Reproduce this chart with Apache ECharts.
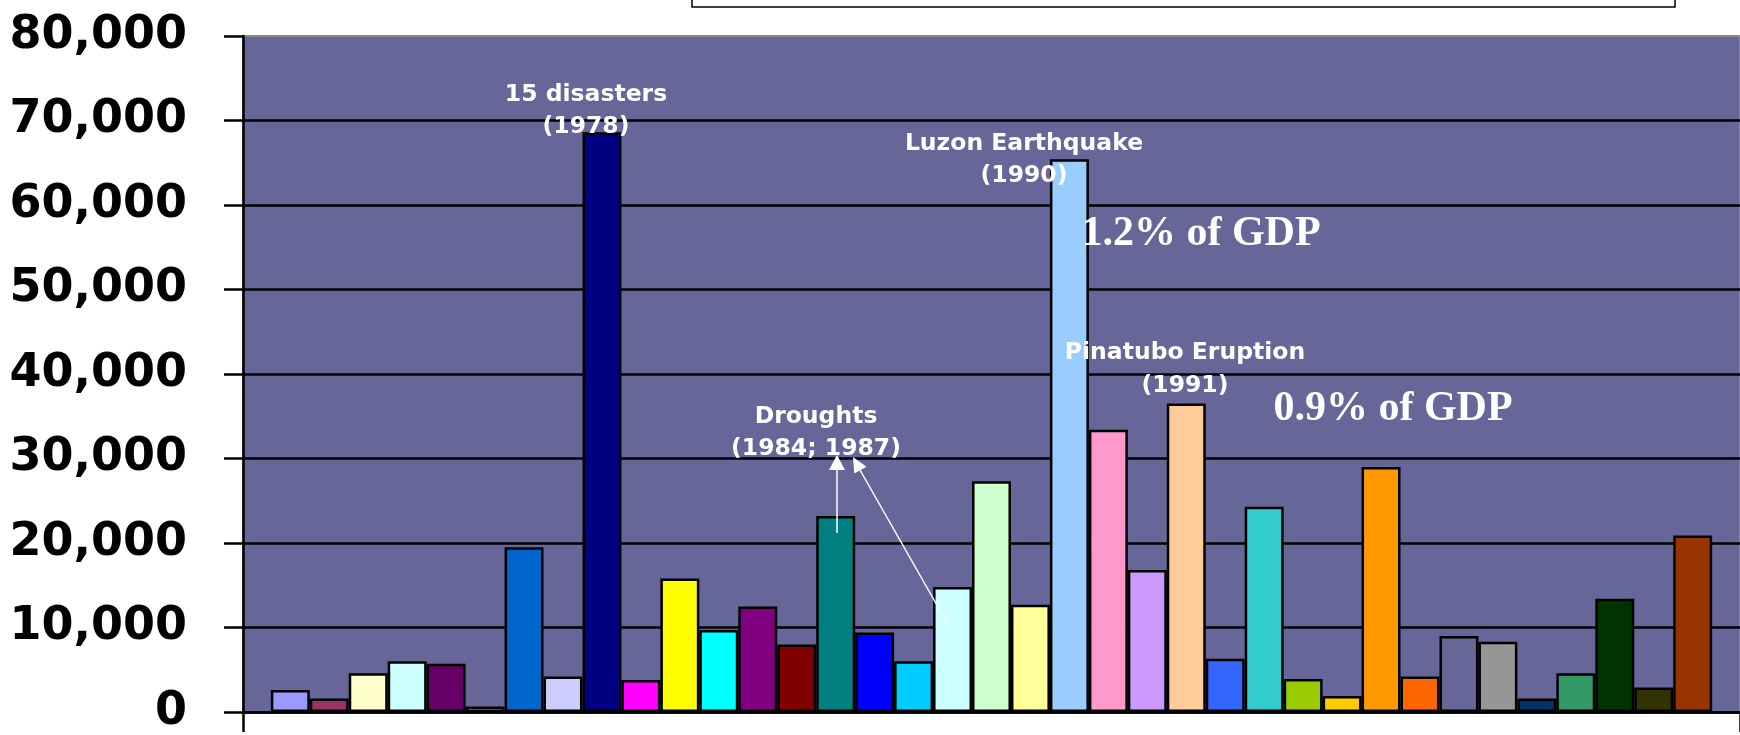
<!DOCTYPE html>
<html>
<head>
<meta charset="utf-8">
<script src="https://cdn.jsdelivr.net/npm/echarts@6/dist/echarts.min.js"></script>
<style>
  html, body { margin: 0; padding: 0; background: #fff; }
  #chart { width: 1740px; height: 735px; }
</style>
</head>
<body>
<div id="chart"></div>
<script>
// one bar per year, 1970 - 2006
const years = [
  '1970', '1971', '1972', '1973', '1974', '1975', '1976', '1977', '1978', '1979',
  '1980', '1981', '1982', '1983', '1984', '1985', '1986', '1987', '1988', '1989',
  '1990', '1991', '1992', '1993', '1994', '1995', '1996', '1997', '1998', '1999',
  '2000', '2001', '2002', '2003', '2004', '2005', '2006'
];
const damages = [
  2600, 1600, 4600, 6000, 5700, 650, 19500, 4200, 68600, 3800,
  15800, 9700, 12500, 8000, 23200, 9400, 6000, 14800, 27300, 12700,
  65400, 33400, 16800, 36500, 6300, 24300, 3900, 1900, 29000, 4200,
  9000, 8300, 1600, 4600, 13400, 2900, 20900
];
// excel default series palette
const barColors = [
  '#9999FF', '#993366', '#FFFFCC', '#CCFFFF', '#660066', '#FF8080', '#0066CC', '#CCCCFF', '#000080', '#FF00FF',
  '#FFFF00', '#00FFFF', '#800080', '#800000', '#008080', '#0000FF', '#00CCFF', '#CCFFFF', '#CCFFCC', '#FFFF99',
  '#99CCFF', '#FF99CC', '#CC99FF', '#FFCC99', '#3366FF', '#33CCCC', '#99CC00', '#FFCC00', '#FF9900', '#FF6600',
  '#666699', '#969696', '#003366', '#339966', '#003300', '#333300', '#993300'
];
const yTicks = [0, 10000, 20000, 30000, 40000, 50000, 60000, 70000, 80000];

const labelFont = 'bold 23.5px "DejaVu Sans", Verdana, sans-serif';
const gdpFont = 'bold 42px "Liberation Serif", "Times New Roman", serif';

const chart = echarts.init(document.getElementById('chart'));

const series = years.map((yr, i) => ({
  name: yr,
  type: 'bar',
  data: [damages[i]],
  barGap: '0%',
  barCategoryGap: '3.72%',
  itemStyle: { color: barColors[i], borderColor: '#000', borderWidth: 2.5 },
  animation: false
}));

chart.setOption({
  animation: false,
  grid: {
    left: 243, right: -8, top: 36, bottom: 16.5,
    show: true, backgroundColor: '#666699', borderColor: '#8a8a8a', borderWidth: 2
  },
  xAxis: {
    type: 'category',
    data: ['damage'],
    axisLine: { lineStyle: { color: '#000', width: 2.5 } },
    axisTick: { show: true, length: 20, lineStyle: { color: '#000', width: 2.5 } },
    axisLabel: { show: false }
  },
  yAxis: {
    type: 'value',
    min: yTicks[0],
    max: yTicks[yTicks.length - 1],
    interval: 10000,
    axisLine: { show: true, lineStyle: { color: '#000', width: 2.5 } },
    axisTick: { show: true, length: 19, lineStyle: { color: '#000', width: 2.5 } },
    splitLine: { show: true, showMaxLine: false, lineStyle: { color: '#000', width: 2.5 } },
    axisLabel: {
      margin: 56,
      color: '#000',
      fontFamily: '"DejaVu Sans", Verdana, sans-serif',
      fontWeight: 'bold',
      fontSize: 46,
      padding: [0, 0, 7, 0],
      formatter: v => v.toLocaleString('en-US')
    }
  },
  series: series,
  graphic: [
    // box cut off at the top
    { type: 'rect', z: 100, shape: { x: 692, y: -6, width: 983, height: 13 },
      style: { fill: '#fff', stroke: '#000', lineWidth: 1.5 } },
    // annotations
    { type: 'text', z: 100, style: { text: '15 disasters\n(1978)', x: 586, y: 111, align: 'center', verticalAlign: 'middle', font: labelFont, fill: '#fff', lineHeight: 32 } },
    { type: 'text', z: 100, style: { text: 'Luzon Earthquake\n(1990)', x: 1024, y: 160, align: 'center', verticalAlign: 'middle', font: labelFont, fill: '#fff', lineHeight: 32 } },
    { type: 'text', z: 100, style: { text: 'Pinatubo Eruption\n(1991)', x: 1185, y: 369, align: 'center', verticalAlign: 'middle', font: labelFont, fill: '#fff', lineHeight: 33 } },
    { type: 'text', z: 100, style: { text: 'Droughts\n(1984; 1987)', x: 816, y: 433, align: 'center', verticalAlign: 'middle', font: labelFont, fill: '#fff', lineHeight: 32 } },
    { type: 'text', z: 100, style: { text: '1.2% of GDP', x: 1201, y: 234, align: 'center', verticalAlign: 'middle', font: gdpFont, fill: '#fff' } },
    { type: 'text', z: 100, style: { text: '0.9% of GDP', x: 1393, y: 409, align: 'center', verticalAlign: 'middle', font: gdpFont, fill: '#fff' } },
    // drought arrows
    { type: 'line', z: 100, shape: { x1: 837, y1: 533, x2: 837, y2: 468 }, style: { stroke: '#fff', lineWidth: 1.5 } },
    { type: 'polygon', z: 100, shape: { points: [[837, 455], [829, 470], [845, 470]] }, style: { fill: '#fff' } },
    { type: 'line', z: 100, shape: { x1: 950, y1: 628, x2: 860, y2: 470 }, style: { stroke: '#fff', lineWidth: 1.5 } },
    { type: 'polygon', z: 100, shape: { points: [[853, 457], [854.3, 473.6], [866.5, 466.7]] }, style: { fill: '#fff' } }
  ]
});
</script>
</body>
</html>
